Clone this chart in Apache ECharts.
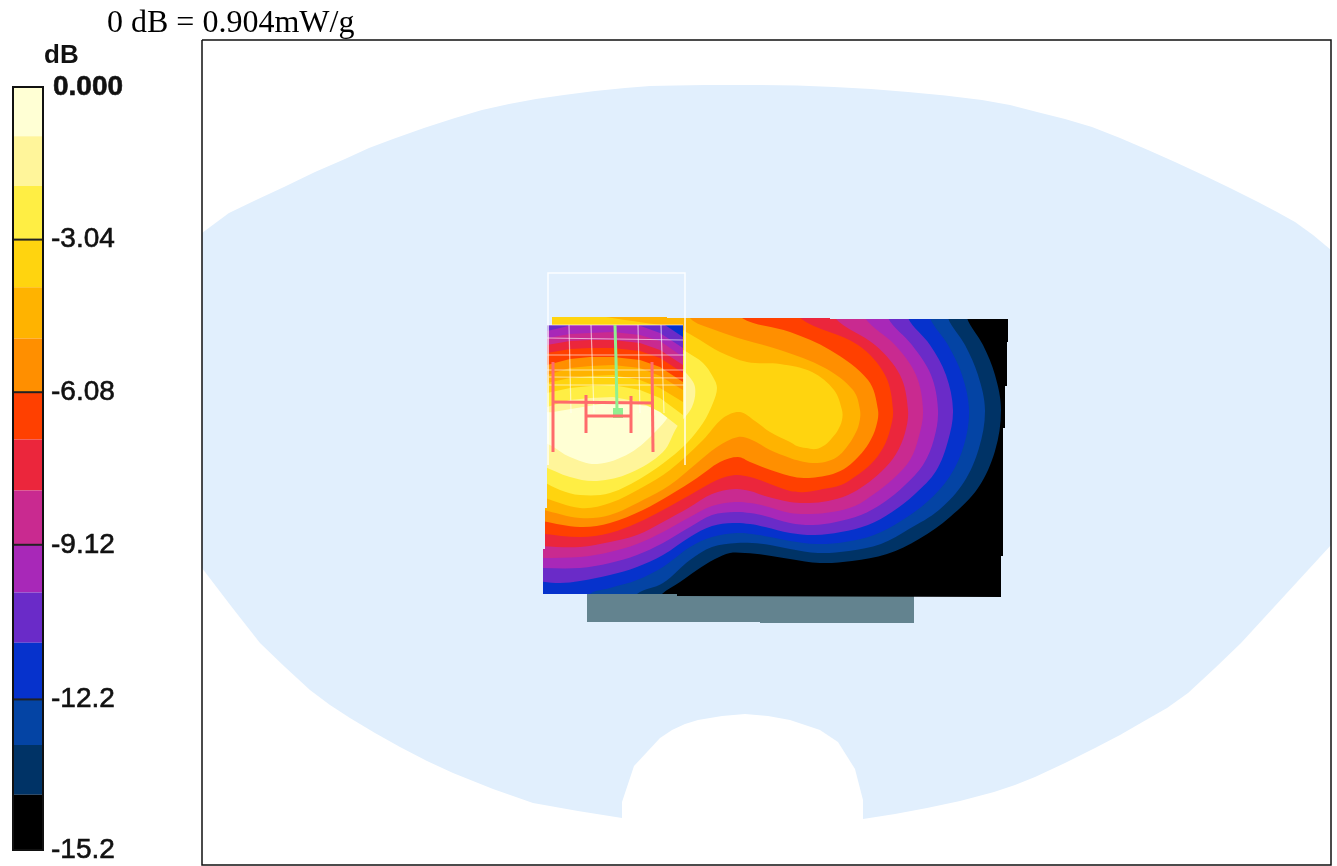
<!DOCTYPE html>
<html>
<head>
<meta charset="utf-8">
<title>SAR</title>
<script src="https://cdn.jsdelivr.net/npm/echarts@6/dist/echarts.min.js"></script>
<style>
  html, body { margin: 0; padding: 0; background: #fff; }
  #chart { width: 1337px; height: 866px; }
</style>
</head>
<body>
<div id="chart"></div>
<script>
// colour scale, top (0 dB) to bottom (-15.2 dB)
var bandEdges = [0, -0.98, -1.97, -3.04, -3.99, -5.01, -6.08, -7.02, -8.04, -9.12, -10.07, -11.07, -12.2, -13.11, -14.1, -15.2]
var bandColors = ['#ffffd4', '#fff59a', '#ffee44', '#ffd40f', '#ffb300', '#ff8f00', '#ff4000', '#eb263c', '#c92a90', '#a828b8', '#6a2bc8', '#0632cc', '#0444a4', '#003366', '#000000']
var tickValues = [0, -3.04, -6.08, -9.12, -12.2, -15.2]

// phantom outline
var phantom = [[202,233],[229,213],[256,200],[284,187],[315,172],[345,159],[369,148],[393,139],[424,128],[455,118],[482,110],[509,104],[536,99],[564,95],[595,91],[625,88],[650,86],[676,85.5],[705,85],[760,85],[797,85.5],[834,87],[871,89],[908,92],[945,95.5],[982,100],[1010,105],[1037,112],[1065,119],[1092,127],[1120,138],[1148,150],[1175,162],[1203,175],[1230,188],[1258,202],[1277,212],[1295,222],[1313,235],[1331,250],[1331,545],[1286,594],[1241,643],[1215,668],[1188,693],[1167,708],[1146,720],[1120,735],[1095,748],[1065,763],[1035,777],[1015,785],[994,792],[960,801],[927,808],[895,814],[863,819],[863,800],[855,769],[838,742],[820,730],[790,720],[768,716],[745,714],[722,716],[698,720],[685,724],[672,730],[660,738],[634,766],[622,802],[622,818],[578,811],[533,803],[493,789],[453,773],[427,761],[400,747],[375,733],[350,718],[330,705],[310,690],[285,667],[260,643],[231,606],[202,568]]

// measured scan area, black floor
var scanArea = [[552,317],[667,317],[667,318],[830,318],[830,319],[1008,319],[1008,342],[1007,342],[1007,386],[1005,386],[1005,428],[1003,428],[1003,556],[1001,556],[1001,597],[677,596],[677,594],[543,594],[543,549],[545,549],[545,508],[547,508],[547,325],[552,325]]

// contour lines, outermost first (number = colour of the band inside the line)
var contour13 = [[967,318],[983,345],[995,375],[1001,410],[995,451],[978,488],[950,517],[919,539],[887,554],[852,561],[820,563],[790,559],[765,555],[745,553],[730,553],[715,559],[697,570],[680,582],[662,594]]
var contour12 = [[948,318],[965,345],[978,375],[985,410],[979,448],[964,482],[939,510],[909,529],[881,544],[849,551],[818,553],[790,549],[770,545],[752,543],[737,543],[712,547],[690,560],[663,583],[637,594]]
var contour11 = [[930,318],[948,345],[962,375],[969,410],[964,445],[950,476],[927,502],[901,521],[874,535],[845,542],[817,544],[790,541],[770,537],[752,534],[737,533],[712,537],[690,547],[663,567],[637,580],[610,588],[590,594]]
var contour10 = [[908,318],[930,345],[946,375],[953,410],[948,441],[936,471],[915,494],[892,512],[868,525],[841,532],[815,535],[790,533],[765,527],[750,524],[733,523],[712,526],[690,537],[663,555],[637,567],[610,575],[580,581],[560,583],[535,581]]
var contour9 = [[888,318],[912,345],[931,375],[938,410],[934,439],[923,465],[904,486],[883,503],[861,515],[836,522],[813,525],[790,523],[765,516],[750,513],[735,512],[712,515],[690,527],[663,543],[637,555],[610,563],[580,568],[535,568]]
var contour8 = [[865,318],[895,345],[916,375],[923,410],[919,436],[910,460],[893,479],[874,494],[855,506],[832,512],[811,514],[790,513],[765,506],[750,503],[735,502],[712,506],[690,517],[663,532],[637,544],[610,552],[580,557],[535,558]]
var contour7 = [[835,318],[875,345],[900,375],[908,410],[905,433],[896,454],[882,471],[865,485],[848,495],[828,501],[809,503],[790,502],[765,496],[750,491],[735,489],[712,494],[690,507],[663,522],[637,535],[610,542],[580,547],[535,546]]
var contour6 = [[800,318],[858,345],[885,375],[893,410],[890,430],[883,448],[871,464],[856,476],[841,485],[823,489],[806,492],[790,491],[765,482],[750,477],[735,475],[717,480],[690,495],[663,510],[637,523],[610,533],[580,537],[535,533]]
var contour5 = [[742,318],[790,332],[830,350],[868,380],[878,410],[876,427],[869,443],[859,456],[847,467],[833,474],[818,477],[804,478],[790,476],[765,468],[750,462],[738,457],[720,462],[697,478],[670,495],[643,510],[610,523],[580,527],[535,520]]
var contour4 = [[690,318],[715,330],[745,340],[780,350],[825,368],[853,390],[860,410],[859,424],[854,436],[846,448],[837,457],[825,462],[812,463],[800,461],[790,458],[770,450],[752,440],[738,437],[717,447],[697,463],[670,485],[643,500],[610,515],[580,518],[535,508]]
var contour3 = [[680,328],[700,340],[720,352],[747,362],[780,364],[812,372],[834,390],[842,410],[842,420],[838,430],[832,438],[825,445],[816,449],[806,448],[797,446],[790,442],[770,432],[755,421],[740,412],[723,418],[703,440],[670,470],[643,487],[610,503],[580,508],[535,495]]
var contour2 = [[680,348],[687,352],[703,363],[713,377],[717,388],[713,403],[703,423],[687,443],[670,458],[643,477],[610,493],[580,495],[560,490],[535,478]]
var contour1 = [[680,368],[687,374],[695,387],[692,407],[677,427],[663,452],[630,473],[597,481],[570,477],[535,463]]
var contour0 = [[535,438],[550,445],[570,457],[597,464],[630,453],[657,430],[668,413],[640,405],[613,403],[583,407],[553,412],[535,414]]

var handset = [[587,590],[914,590],[914,623],[760,623],[760,622],[587,622]]

// zoom scan cube: lower edge of each band across cubeX
var cubeX = [547, 570, 590, 613, 640, 660, 683]
var cubeEdge2 = [407, 400, 398, 397, 402, 412, 430]
var cubeEdge3 = [393, 388, 386, 385, 390, 398, 415]
var cubeEdge4 = [383, 378, 376, 375, 380, 388, 402]
var cubeEdge5 = [375, 368, 366, 365, 368, 376, 390]
var cubeEdge6 = [365, 359, 357, 357, 360, 367, 382]
var cubeEdge7 = [353, 349, 348, 348, 351, 358, 373]
var cubeEdge8 = [345, 341, 340, 340, 343, 350, 365]
var cubeEdge9 = [338, 334, 333, 332, 335, 341, 357]
var cubeCornerLeft = [[547,325],[572,325],[560,328],[547,331]]
var cubeCornerRight = [[638,325],[660,333],[683,348],[683,325]]
var cubeCornerBlue = [[665,325],[683,337],[683,325]]

// wireframe of the cube and the phone antenna
var wireBox = [[548,465],[548,273],[685,273],[685,465]]
var wireGrid = [
  [[547,325],[683,325]], [[547,338],[683,340]], [[547,355],[684,355]], [[547,370],[684,370]], [[549,377],[684,378]], [[549,385],[684,385]],
  [[569,325],[571,413]], [[591,325],[594,413]], [[638,325],[640,413]], [[661,325],[664,413]]
]
var antennaLines = [
  [[553,362],[553,452]], [[652,362],[653,452]], [[552,402],[652,403]],
  [[586,395],[586,433]], [[631,396],[631,433]], [[586,416],[631,416]]
]
var feedLine = [[615,325],[616,360],[617,410]]
var feedBlock = [[613,408],[623,408],[623,418],[613,418]]

var frame = [[202,40],[1331,40],[1331,865],[202,865],[202,40]]

function closeContour(pts, ceiling) {
  var first = pts[0], last = pts[pts.length - 1], out = pts.slice()
  if (last[1] >= 590) out.push([last[0] - 30, 625])
  out.push([525, out[out.length - 1][1]], [525, ceiling], [first[0], ceiling])
  return out
}
function cubeBand(edge) {
  var pts = cubeX.map(function (x, i) { return [x, edge[i]] })
  pts.push([683, 325], [547, 325])
  return pts
}

var layers = [
  { pts: phantom, fill: '#e1effd' },
  { pts: handset, fill: '#63838f' },
  { pts: scanArea, fill: bandColors[14] },
  { pts: closeContour(contour13, 300), fill: bandColors[13], smooth: 0.35, clip: true },
  { pts: closeContour(contour12, 300), fill: bandColors[12], smooth: 0.35, clip: true },
  { pts: closeContour(contour11, 300), fill: bandColors[11], smooth: 0.35, clip: true },
  { pts: closeContour(contour10, 300), fill: bandColors[10], smooth: 0.35, clip: true },
  { pts: closeContour(contour9, 300), fill: bandColors[9], smooth: 0.35, clip: true },
  { pts: closeContour(contour8, 300), fill: bandColors[8], smooth: 0.35, clip: true },
  { pts: closeContour(contour7, 300), fill: bandColors[7], smooth: 0.35, clip: true },
  { pts: closeContour(contour6, 300), fill: bandColors[6], smooth: 0.35, clip: true },
  { pts: closeContour(contour5, 300), fill: bandColors[5], smooth: 0.35, clip: true },
  { pts: closeContour(contour4, 300), fill: bandColors[4], smooth: 0.35, clip: true },
  { pts: closeContour(contour3, 326), fill: bandColors[3], smooth: 0.35, clip: true },
  { pts: closeContour(contour2, 345), fill: bandColors[2], smooth: 0.35, clip: true },
  { pts: closeContour(contour1, 365), fill: bandColors[1], smooth: 0.35, clip: true },
  { pts: contour0, fill: bandColors[0], smooth: 0.35, clip: true },
  { pts: cubeBand(cubeEdge2), fill: bandColors[2] },
  { pts: cubeBand(cubeEdge3), fill: bandColors[3] },
  { pts: cubeBand(cubeEdge4), fill: bandColors[4] },
  { pts: cubeBand(cubeEdge5), fill: bandColors[5] },
  { pts: cubeBand(cubeEdge6), fill: bandColors[6] },
  { pts: cubeBand(cubeEdge7), fill: bandColors[7] },
  { pts: cubeBand(cubeEdge8), fill: bandColors[8] },
  { pts: cubeBand(cubeEdge9), fill: bandColors[9] },
  { pts: cubeCornerLeft, fill: bandColors[10] },
  { pts: cubeCornerRight, fill: bandColors[10] },
  { pts: cubeCornerBlue, fill: bandColors[11] },
  { pts: wireBox, line: 'rgba(255,255,255,0.9)', width: 1.5, open: true },
  { pts: feedBlock, fill: '#90f090' }
]
wireGrid.forEach(function (l) { layers.push({ pts: l, line: 'rgba(255,255,255,0.6)', width: 1.2, open: true }) })
antennaLines.forEach(function (l) { layers.push({ pts: l, line: '#ff6b6b', width: 3, open: true }) })
layers.push({ pts: feedLine, line: '#90f090', width: 3, open: true })
layers.push({ pts: frame, line: '#111111', width: 1.5, open: true })

function renderLayer(params, api) {
  var layer = layers[params.dataIndex]
  var points = layer.pts.map(function (p) { return api.coord(p) })
  if (layer.open) {
    return { type: 'polyline', shape: { points: points }, style: { fill: null, stroke: layer.line, lineWidth: layer.width } }
  }
  var el = { type: 'polygon', shape: { points: points, smooth: layer.smooth || 0 }, style: { fill: layer.fill } }
  if (layer.clip) {
    el.clipPath = { type: 'polygon', shape: { points: scanArea.map(function (p) { return api.coord(p) }) } }
  }
  return el
}

function renderBand(params, api) {
  var p0 = api.coord([0, api.value(1)])
  var p1 = api.coord([1, api.value(2)])
  return { type: 'rect', shape: { x: p0[0], y: p0[1], width: p1[0] - p0[0], height: p1[1] - p0[1] }, style: { fill: bandColors[params.dataIndex] } }
}

function renderTick(params, api) {
  var p0 = api.coord([0, api.value(1)])
  var p1 = api.coord([1, api.value(1)])
  return { type: 'line', shape: { x1: p0[0], y1: p0[1], x2: p1[0], y2: p1[1] }, style: { stroke: '#222', lineWidth: 2 } }
}

var chart = echarts.init(document.getElementById('chart'))
var option = {
  animation: false,
  backgroundColor: '#ffffff',
  title: [
    { text: '0 dB = 0.904mW/g', left: 102, top: 3, textStyle: { fontFamily: 'Liberation Serif', fontSize: 32, fontWeight: 'normal', color: '#000' } },
    { text: 'dB', left: 39, top: 38, textStyle: { fontFamily: 'Liberation Sans', fontSize: 26, fontWeight: 'bold', color: '#111' } }
  ],
  grid: [
    { left: 0, top: 0, width: 1337, height: 866 },
    { left: 13, top: 87, width: 30, height: 763, show: true, z: 5, borderColor: '#111', borderWidth: 2, backgroundColor: 'transparent' }
  ],
  xAxis: [
    { type: 'value', gridIndex: 0, min: 0, max: 1337, show: false },
    { type: 'value', gridIndex: 1, min: 0, max: 1, show: false }
  ],
  yAxis: [
    { type: 'value', gridIndex: 0, min: 0, max: 866, inverse: true, show: false },
    {
      type: 'value', gridIndex: 1, min: -15.2, max: 0, position: 'right',
      axisLine: { show: false },
      splitLine: { show: false },
      axisTick: { show: false },
      axisLabel: {
        show: true, margin: 8, customValues: tickValues, color: '#111', fontFamily: 'Liberation Sans', fontSize: 28,
        textBorderColor: '#111', textBorderWidth: 0.6,
        formatter: function (v) { return v === 0 ? '{top|0.000}' : String(v) },
        rich: { top: { fontFamily: 'Liberation Sans', fontSize: 28, fontWeight: 'bold', color: '#111', padding: [0, 0, 0, 2] } }
      }
    }
  ],
  series: [
    {
      type: 'custom', name: 'scan', xAxisIndex: 0, yAxisIndex: 0, clip: false,
      data: layers.map(function (l, i) { return [i, i] }),
      renderItem: renderLayer
    },
    {
      type: 'custom', name: 'scale', xAxisIndex: 1, yAxisIndex: 1, clip: false,
      data: bandColors.map(function (c, i) { return [0, bandEdges[i], bandEdges[i + 1]] }),
      renderItem: renderBand
    },
    {
      type: 'custom', name: 'ticks', xAxisIndex: 1, yAxisIndex: 1, clip: false,
      data: tickValues.map(function (v) { return [0, v] }),
      renderItem: renderTick
    }
  ]
}
chart.setOption(option)
</script>
</body>
</html>
